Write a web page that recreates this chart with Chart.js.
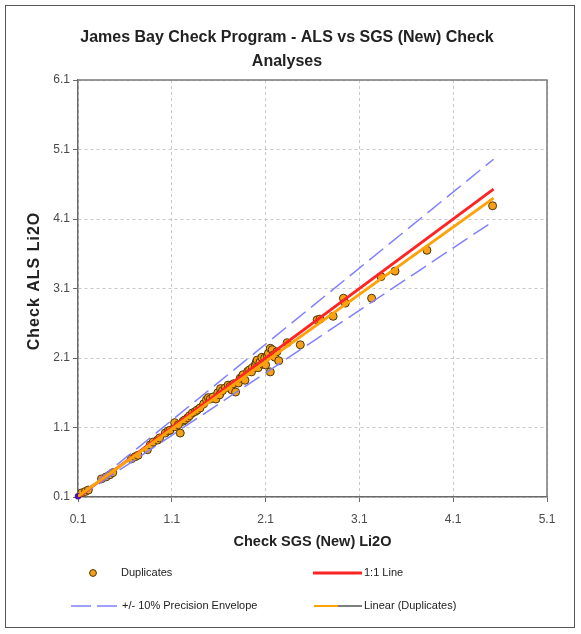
<!DOCTYPE html>
<html>
<head>
<meta charset="utf-8">
<script src="https://cdn.jsdelivr.net/npm/chart.js@4.4.1/dist/chart.umd.min.js"></script>
<style>
  html, body { margin: 0; padding: 0; background: #ffffff; }
  #wrap { width: 581px; height: 634px; position: relative; }
  canvas { display: block; }
</style>
</head>
<body>
<div id="wrap"><canvas id="chart" width="581" height="634"></canvas></div>
<script>
// Check assay pairs: SGS (New) Li2O on x, ALS Li2O on y
const sgsLi2O = [
  0.14, 0.18, 0.21, 0.35, 0.40, 0.44, 0.47, 0.67, 0.71, 0.74,
  0.84, 0.87, 0.90, 0.95, 0.97, 1.03, 1.06, 1.08, 1.13, 1.13,
  1.19, 1.22, 1.24, 1.17, 1.27, 1.29, 1.32, 1.35, 1.37, 1.40,
  1.44, 1.47, 1.49, 1.51, 1.54, 1.57, 1.59, 1.61, 1.62, 1.64,
  1.67, 1.70, 1.72, 1.74, 1.76, 1.78, 1.81, 1.83, 1.85, 1.86,
  1.88, 1.91, 1.93, 1.95, 1.96, 1.99, 2.00, 2.01, 2.02, 2.04,
  2.06, 2.07, 2.09, 2.10, 2.12, 2.13, 2.15, 2.15, 2.17, 2.18,
  2.20, 2.22, 2.24, 2.33, 2.47, 2.65, 2.68, 2.82, 2.93, 2.95,
  3.23, 3.33, 3.48, 3.82, 4.52
];
const alsLi2O = [
  0.16, 0.18, 0.20, 0.36, 0.39, 0.42, 0.45, 0.65, 0.68, 0.70,
  0.78, 0.85, 0.89, 0.92, 0.95, 1.02, 1.05, 1.06, 1.11, 1.17,
  1.02, 1.19, 1.21, 1.14, 1.24, 1.27, 1.31, 1.33, 1.35, 1.38,
  1.44, 1.50, 1.53, 1.51, 1.54, 1.51, 1.60, 1.57, 1.66, 1.63,
  1.67, 1.71, 1.69, 1.64, 1.73, 1.61, 1.74, 1.81, 1.83, 1.86,
  1.78, 1.91, 1.93, 1.90, 1.96, 2.00, 2.04, 2.07, 1.96, 2.04,
  2.11, 2.01, 2.10, 2.00, 2.13, 2.17, 2.24, 1.90, 2.22, 2.14,
  2.11, 2.19, 2.06, 2.32, 2.29, 2.65, 2.66, 2.70, 2.96, 2.89,
  2.96, 3.27, 3.35, 3.65, 4.29
];

// Reference lines (end points along SGS)
const lineSgs = [0.1, 4.53];
const oneToOneAls = [0.1, 4.53];
const envelopeUpperAls = [0.11, 4.96];
const envelopeLowerAls = [0.09, 4.07];
const trendAls = [0.11, 4.40];

// Axis tick values
const xTicks = [0.1, 1.1, 2.1, 3.1, 4.1, 5.1];
const yTicks = [0.1, 1.1, 2.1, 3.1, 4.1, 5.1, 6.1];

const chartTitle = ['James Bay Check Program - ALS vs SGS (New) Check', 'Analyses'];
const yAxisTitle = 'Check ALS Li2O';

const FONT = '"Liberation Sans", Arial, Helvetica, sans-serif';

const toPoints = (xs, ys) => xs.map((x, i) => ({ x: x, y: ys[i] }));

// Outer frame, titles, plot border and the two-column legend
const framePlugin = {
  id: 'frameAndLegend',
  beforeDraw(chart) {
    const ctx = chart.ctx;
    ctx.save();
    ctx.fillStyle = '#ffffff';
    ctx.fillRect(0, 0, chart.width, chart.height);
    ctx.strokeStyle = '#555555';
    ctx.lineWidth = 1;
    ctx.strokeRect(5.5, 5.5, 569, 622);

    // chart title
    ctx.fillStyle = '#222222';
    ctx.font = 'bold 16px ' + FONT;
    ctx.textAlign = 'center';
    ctx.textBaseline = 'middle';
    chartTitle.forEach((line, i) => ctx.fillText(line, 287, 38 + i * 24));

    // vertical axis title
    ctx.save();
    ctx.translate(35, 281);
    ctx.rotate(-Math.PI / 2);
    ctx.font = 'bold 16px ' + FONT;
    if ('letterSpacing' in ctx) ctx.letterSpacing = '1px';
    ctx.fillText(yAxisTitle, 0, 0);
    ctx.restore();
    ctx.restore();
  },
  afterDatasetsDraw(chart) {
    const { ctx, chartArea: a } = chart;
    ctx.save();
    ctx.strokeStyle = '#7a7a7a';
    ctx.lineWidth = 1.5;
    ctx.beginPath();
    ctx.moveTo(a.left, a.top);
    ctx.lineTo(a.right, a.top);
    ctx.lineTo(a.right, a.bottom);
    ctx.stroke();
    ctx.restore();
  },
  afterDraw(chart) {
    const ctx = chart.ctx;
    const ds = chart.data.datasets;
    ctx.save();
    ctx.font = '11px ' + FONT;
    ctx.fillStyle = '#222222';
    ctx.textBaseline = 'middle';
    ctx.textAlign = 'left';

    // Duplicates
    ctx.beginPath();
    ctx.arc(93, 573, 3.4, 0, Math.PI * 2);
    ctx.fillStyle = ds[0].backgroundColor;
    ctx.fill();
    ctx.lineWidth = 1;
    ctx.strokeStyle = ds[0].borderColor;
    ctx.stroke();
    ctx.fillStyle = '#222222';
    ctx.fillText(ds[0].label, 121, 573);

    // 1:1 Line
    ctx.strokeStyle = ds[1].borderColor;
    ctx.lineWidth = 3;
    ctx.beginPath();
    ctx.moveTo(313, 573);
    ctx.lineTo(362, 573);
    ctx.stroke();
    ctx.fillText(ds[1].label, 364, 573);

    // Precision envelope
    ctx.strokeStyle = ds[2].borderColor;
    ctx.lineWidth = 1.5;
    ctx.beginPath();
    ctx.moveTo(71, 606); ctx.lineTo(91, 606);
    ctx.moveTo(97, 606); ctx.lineTo(117, 606);
    ctx.stroke();
    ctx.fillText(ds[2].label, 122, 606);

    // Linear trend
    ctx.strokeStyle = ds[4].borderColor;
    ctx.lineWidth = 2;
    ctx.beginPath();
    ctx.moveTo(314, 606);
    ctx.lineTo(338, 606);
    ctx.stroke();
    ctx.strokeStyle = '#555555';
    ctx.lineWidth = 1.5;
    ctx.beginPath();
    ctx.moveTo(338, 606);
    ctx.lineTo(362, 606);
    ctx.stroke();
    ctx.fillText(ds[4].label, 364, 606);
    ctx.restore();
  }
};

const tickFmt = v => Number(v).toFixed(1);

new Chart(document.getElementById('chart'), {
  type: 'scatter',
  data: {
    datasets: [
      {
        label: 'Duplicates',
        data: toPoints(sgsLi2O, alsLi2O),
        backgroundColor: '#f5a018',
        borderColor: '#4e3806',
        borderWidth: 1,
        pointRadius: 4,
        pointHoverRadius: 4,
        order: 10
      },
      {
        label: '1:1 Line',
        data: toPoints(lineSgs, oneToOneAls),
        showLine: true,
        borderColor: '#ff2424',
        borderWidth: 3,
        pointRadius: 0,
        order: 3
      },
      {
        label: '+/- 10% Precision Envelope',
        data: toPoints(lineSgs, envelopeUpperAls),
        showLine: true,
        borderColor: '#8080ff',
        borderWidth: 1.5,
        borderDash: [18, 7],
        pointRadius: ctx => ctx.dataIndex === 0 ? 2.5 : 0,
        pointBackgroundColor: '#4a10b0',
        pointBorderColor: '#4a10b0',
        clip: false,
        order: 4
      },
      {
        label: 'envelope-lower',
        data: toPoints(lineSgs, envelopeLowerAls),
        showLine: true,
        borderColor: '#8080ff',
        borderWidth: 1.5,
        borderDash: [18, 7],
        pointRadius: 0,
        order: 5
      },
      {
        label: 'Linear (Duplicates)',
        data: toPoints(lineSgs, trendAls),
        showLine: true,
        borderColor: '#ffa20a',
        borderWidth: 3,
        pointRadius: 0,
        order: 1
      }
    ]
  },
  options: {
    responsive: false,
    devicePixelRatio: 1,
    animation: false,
    events: [],
    layout: { padding: { left: 5, right: 34, top: 80, bottom: 77 } },
    plugins: {
      legend: { display: false },
      tooltip: { enabled: false },
      title: { display: false }
    },
    scales: {
      x: {
        type: 'linear',
        min: 0.1,
        max: 5.1,
        afterBuildTicks: s => { s.ticks = xTicks.map(v => ({ value: v })); },
        afterFit: s => { s.height = 60; },
        ticks: {
          callback: tickFmt,
          color: '#4a4a4a',
          font: { family: FONT, size: 12 },
          padding: 10,
          maxRotation: 0,
          autoSkip: false
        },
        grid: {
          color: '#c8c8c8',
          lineWidth: 1,
          tickLength: 5,
          tickColor: '#6a6a6a',
          tickWidth: 1
        },
        border: { display: true, color: '#6a6a6a', width: 1.5, dash: [3, 3] },
        title: {
          display: true,
          text: 'Check SGS (New) Li2O',
          color: '#222222',
          font: { family: FONT, size: 14.5, weight: 'bold', lineHeight: 1.2 },
          padding: { top: 0, bottom: 6 }
        }
      },
      y: {
        type: 'linear',
        min: 0.1,
        max: 6.1,
        afterBuildTicks: s => { s.ticks = yTicks.map(v => ({ value: v })); },
        afterFit: s => { s.width = 73; },
        ticks: {
          callback: tickFmt,
          color: '#4a4a4a',
          font: { family: FONT, size: 12 },
          padding: 3,
          autoSkip: false
        },
        grid: {
          color: '#c8c8c8',
          lineWidth: 1,
          tickLength: 5,
          tickColor: '#6a6a6a',
          tickWidth: 1
        },
        border: { display: true, color: '#6a6a6a', width: 1.5, dash: [3, 3] },
        title: { display: false }
      }
    }
  },
  plugins: [framePlugin]
});
</script>
</body>
</html>
